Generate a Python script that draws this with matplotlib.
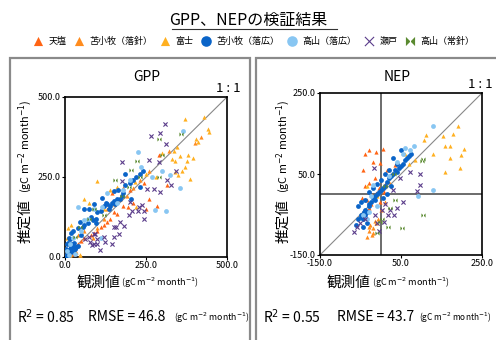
import matplotlib
matplotlib.use("Agg")
import matplotlib.pyplot as plt
from matplotlib.patches import Rectangle
from matplotlib.lines import Line2D
from matplotlib.path import Path

plt.rcParams['font.family'] = ['Noto Sans CJK JP', 'DejaVu Sans']

W, H = 496, 340

# ---------------- data ----------------
series_names = ["天塩", "苫小牧（落針）", "富士", "苫小牧（落広）", "高山（落広）", "瀬戸", "高山（常針）"]
series_colors = ["#FF6414", "#FF8C1E", "#FFB020", "#0A64C8", "#88C6F2", "#5A3C8A", "#5A8A30"]

# GPP (observed x, estimated y)
gpp_teshio_x = [285, 260, 245, 210, 195, 180, 170, 160, 150, 140, 130, 120, 110, 100, 90, 80, 60, 40, 20, 10, 5, 25, 15, 50, 145, 200, 315, 290, 180, 160, 8, 3, 12, 30, 250]
gpp_teshio_y = [160, 180, 230, 170, 155, 160, 180, 175, 140, 120, 110, 100, 95, 80, 75, 70, 60, 40, 20, 5, 15, 8, 30, 50, 200, 210, 225, 320, 215, 135, 2, 6, 10, 20, 150]
gpp_tomaN_x = [5, 10, 20, 30, 40, 60, 85, 100, 150, 190, 230, 320, 260, 2, 15, 45, 35, 130, 210, 120, 400, 420]
gpp_tomaN_y = [5, 20, 10, 30, 70, 80, 60, 90, 165, 190, 240, 330, 270, 8, 2, 5, 15, 150, 215, 120, 355, 375]
gpp_fuji_x = [370, 430, 441, 444, 405, 410, 380, 395, 375, 345, 335, 355, 340, 330, 370, 385, 300, 360, 350, 280, 250, 215, 220, 100, 60, 75, 20, 10, 5, 30, 45, 15, 120, 140, 160, 340]
gpp_fuji_y = [431, 437, 400, 392, 370, 360, 320, 310, 300, 345, 330, 315, 300, 305, 280, 245, 325, 270, 255, 250, 260, 235, 155, 237, 180, 170, 100, 90, 60, 15, 5, 5, 150, 210, 220, 265]
gpp_tomaB_x = [2, 5, 8, 10, 12, 15, 18, 20, 25, 8, 3, 6, 10, 15, 20, 25, 30, 35, 40, 28, 12, 20, 40, 55, 60, 25, 45, 70, 80, 95, 100, 110, 120, 130, 140, 145, 150, 160, 170, 175, 180, 155, 135, 125, 115, 90, 75, 60, 185, 200, 210, 220, 230, 240, 185, 165, 150, 230, 205, 95, 85, 50]
gpp_tomaB_y = [2, 8, 4, 12, 20, 25, 30, 40, 35, 15, 25, 40, 45, 55, 15, 20, 25, 30, 35, 45, 60, 75, 90, 95, 100, 80, 110, 105, 125, 120, 140, 145, 160, 165, 160, 170, 175, 180, 180, 190, 200, 165, 150, 170, 185, 165, 150, 150, 225, 230, 240, 250, 260, 270, 260, 210, 205, 220, 180, 105, 115, 70]
gpp_takaB_x = [226, 363, 355, 325, 278, 312, 40, 60, 90, 15, 5, 12, 30, 70, 115, 130, 160, 200, 235, 300, 270, 180, 110, 50, 25]
gpp_takaB_y = [329, 395, 217, 255, 148, 145, 157, 115, 150, 40, 20, 5, 10, 120, 155, 200, 170, 240, 280, 270, 250, 210, 60, 80, 60]
gpp_seto_x = [309, 264, 293, 312, 176, 259, 290, 327, 342, 316, 254, 275, 294, 176, 238, 226, 244, 207, 197, 171, 181, 166, 156, 150, 145, 99, 88, 78, 109, 99, 73, 93, 62, 119, 124, 83, 88, 202, 244, 228, 150]
gpp_seto_y = [415, 379, 389, 353, 296, 303, 296, 226, 270, 241, 213, 213, 202, 239, 161, 145, 145, 145, 130, 109, 98, 73, 93, 62, 41, 57, 41, 47, 23, 41, 62, 73, 57, 62, 47, 36, 73, 171, 119, 155, 93]
gpp_takaN_x = [358, 290, 299, 221, 203, 155, 291, 88, 74, 47, 31, 198, 233, 120, 175]
gpp_takaN_y = [384, 368, 318, 301, 273, 241, 251, 150, 119, 93, 62, 218, 249, 130, 190]

# NEP (observed x, estimated y)
nep_teshio_x = [-39, -28, -11, 5, -20, -3, -43, -30, -22, -11, -47, -34, -1, -30, 7, 23, 35, -15, 10, -5, -25, 15, -40]
nep_teshio_y = [100, 109, 105, 111, 80, 76, 59, 27, -2, 2, -10, -14, -19, -35, 6, 47, 72, 40, 25, 15, -25, 60, 20]
nep_tomaN_x = [-22, -34, -18, -26, -30, -12, -20, -8, 0, 10, 20, -15, -28]
nep_tomaN_y = [-101, -105, -84, -76, -90, -70, -95, -60, -40, -20, 30, -65, -80]
nep_fuji_x = [190, 178, 154, 170, 158, 205, 197, 170, 195, 158, 129, 112, 106, 85, 70, -35, 60, -10]
nep_fuji_y = [169, 148, 143, 119, 119, 111, 98, 90, 65, 54, 100, 146, 133, 85, 75, 20, 100, -5]
nep_tomaB_x = [-55, -50, -48, -45, -42, -40, -38, -35, -30, -28, -25, -20, -15, -10, -5, 0, 5, 10, 15, 20, 25, 30, 35, 40, 45, 50, 55, 60, 65, 70, 75, 40, 20, 10, 0, -10, -20, -30, -40, -50, -55, 30, 50, -60, -45, -35, 5, 15, 25, -15]
nep_tomaB_y = [-60, -55, -50, -62, -45, -50, -40, -45, -30, -25, -20, -10, -5, 0, 5, 10, 15, 20, 30, 40, 45, 50, 60, 55, 65, 70, 75, 85, 90, 95, 100, 75, 60, 50, 35, 25, 15, 5, -15, -20, -30, 90, 110, -75, -80, -70, -10, 0, 20, -15]
nep_takaB_x = [130, 81, 71, 129, 93, -18, -30, -43, -35, -10, 55, 40, -25, 20, 60]
nep_takaB_y = [169, 119, 109, 10, -5, 22, -43, -51, -60, -30, 100, 80, -5, 45, 115]
nep_seto_x = [-16, 97, 97, 89, 56, 40, 23, 32, 7, -10, -51, -58, -67, -40, -14, 2, 11, 48, 73, 19, -5, 30]
nep_seto_y = [65, 49, 22, 8, -19, -33, -39, -50, -68, -72, -72, -80, -92, -62, -51, -39, -23, 39, 55, -51, -90, 10]
nep_takaN_x = [104, 52, 36, 19, 3, -3, 23, 102, 104, 32, 10, -10]
nep_takaN_y = [-51, -84, -14, -80, -60, -68, -33, 82, 88, 51, 20, -95]

gpp_sets = [(gpp_teshio_x, gpp_teshio_y), (gpp_tomaN_x, gpp_tomaN_y), (gpp_fuji_x, gpp_fuji_y),
            (gpp_tomaB_x, gpp_tomaB_y), (gpp_takaB_x, gpp_takaB_y), (gpp_seto_x, gpp_seto_y),
            (gpp_takaN_x, gpp_takaN_y)]
nep_sets = [(nep_teshio_x, nep_teshio_y), (nep_tomaN_x, nep_tomaN_y), (nep_fuji_x, nep_fuji_y),
            (nep_tomaB_x, nep_tomaB_y), (nep_takaB_x, nep_takaB_y), (nep_seto_x, nep_seto_y),
            (nep_takaN_x, nep_takaN_y)]

gpp_ticks = [0.0, 250.0, 500.0]
nep_ticks = [-150.0, 50.0, 250.0]
gpp_stats = ("0.85", "46.8")
nep_stats = ("0.55", "43.7")

# ---------------- styles ----------------
bowtie = Path([(-1, 1), (-1, -1), (1, 1), (1, -1), (-1, 1)],
              [Path.MOVETO, Path.LINETO, Path.LINETO, Path.LINETO, Path.CLOSEPOLY])
markers = ["^", "^", "^", "o", "o", "x", bowtie]
sizes = [9, 9, 9, 12, 12, 9, 9]

fig = plt.figure(figsize=(W / 100, H / 100), dpi=100)

def fx(px):
    return px / W

def fy(py):
    return 1 - py / H

# panel frames
for x0, x1 in [(10, 250), (256, 500)]:
    fig.add_artist(Rectangle((fx(x0), fy(345)), fx(x1 - x0), (345 - 58) / H,
                             fill=False, edgecolor="#8a8a8a", linewidth=1.6,
                             transform=fig.transFigure, clip_on=False))

# title
fig.text(0.5, fy(20), "GPP、NEPの検証結果", ha="center", va="center", fontsize=11.5)
fig.add_artist(Line2D([fx(172), fx(337)], [fy(29), fy(29)], color="#333333", lw=0.8))

unit = r"(gC m$^{-2}$ month$^{-1}$)"

def make_panel(ax_rect, sets, ticks, title, title_x, stats, lab_x, xl_c, xu_c, st_x, rm_x, one_x, one_y, cross):
    ax = fig.add_axes(ax_rect)
    handles = []
    for (xs, ys), m, s, c, n in zip(sets, markers, sizes, series_colors, series_names):
        if m == "x":
            h = ax.scatter(xs, ys, marker=m, s=s, c=c, linewidths=0.8, label=n, zorder=3)
        else:
            h = ax.scatter(xs, ys, marker=m, s=s, c=c, linewidths=0, label=n, zorder=3)
        handles.append(h)
    lo, hi = ticks[0], ticks[-1]
    ax.plot([lo, hi], [lo, hi], color="#888888", lw=0.8, zorder=2)
    if cross:
        ax.axvline(0, color="#444444", lw=1.1, zorder=1)
        ax.axhline(0, color="#444444", lw=1.1, zorder=1)
    ax.set_xlim(lo, hi)
    ax.set_ylim(lo, hi)
    ax.set_xticks(ticks)
    ax.set_yticks(ticks)
    ax.set_xticklabels([f"{t:.1f}" for t in ticks])
    ax.set_yticklabels([f"{t:.1f}" for t in ticks])
    ax.tick_params(labelsize=6.5, length=2, width=0.8, pad=1)
    for sp in ax.spines.values():
        sp.set_linewidth(1.2)
    fig.text(fx(title_x), fy(77), title, ha="center", va="center", fontsize=10)
    fig.text(fx(one_x), fy(one_y), "1 : 1", ha="right", va="center", fontsize=9.5)
    # y label
    fig.text(fx(lab_x), fy(221), "推定値", rotation=90, ha="center", va="center", fontsize=10.5)
    fig.text(fx(lab_x), fy(146), unit, rotation=90, ha="center", va="center", fontsize=7.8)
    # x label
    fig.text(fx(xl_c), fy(283), "観測値", ha="center", va="center", fontsize=10.5)
    fig.text(fx(xu_c), fy(283), unit, ha="center", va="center", fontsize=6.5)
    # stats
    fig.text(fx(st_x), fy(317), f"R$^2$ = {stats[0]}", ha="left", va="center", fontsize=10)
    fig.text(fx(rm_x), fy(317), f"RMSE = {stats[1]}", ha="left", va="center", fontsize=10)
    return handles

handles = make_panel([fx(65), fy(257), fx(162), 160 / H], gpp_sets, gpp_ticks, "GPP", 147,
                     gpp_stats, 25, 98, 160, 17, 88, 241, 88, False)
fig.text(fx(174), fy(318), unit, ha="left", va="center", fontsize=6.3)
make_panel([fx(320), fy(255), fx(162), 162 / H], nep_sets, nep_ticks, "NEP", 397,
           nep_stats, 283, 348, 411, 263, 337, 492, 85, True)
fig.text(fx(419), fy(318), unit, ha="left", va="center", fontsize=6.0)

leg = fig.legend(handles=handles, labels=series_names, loc="center", bbox_to_anchor=(0.5 + 6 / W, fy(41)),
                 ncol=7, frameon=False, fontsize=6.5, handletextpad=0.7, columnspacing=0.85,
                 handlelength=1.0, markerscale=2.2, borderaxespad=0)

fig.savefig("out.png", dpi=100)
